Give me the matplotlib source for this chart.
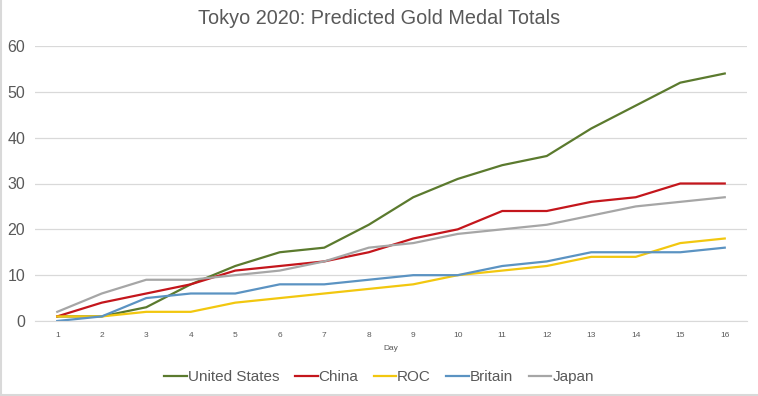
import matplotlib
matplotlib.use("Agg")
import matplotlib.pyplot as plt
from matplotlib.lines import Line2D

plt.rcParams['font.family'] = ['Liberation Sans', 'DejaVu Sans']

days = list(range(1, 17))
united_states = [1, 1, 3, 8, 12, 15, 16, 21, 27, 31, 34, 36, 42, 47, 52, 54]
china = [1, 4, 6, 8, 11, 12, 13, 15, 18, 20, 24, 24, 26, 27, 30, 30]
roc = [1, 1, 2, 2, 4, 5, 6, 7, 8, 10, 11, 12, 14, 14, 17, 18]
britain = [0, 1, 5, 6, 6, 8, 8, 9, 10, 10, 12, 13, 15, 15, 15, 16]
japan = [2, 6, 9, 9, 10, 11, 13, 16, 17, 19, 20, 21, 23, 25, 26, 27]

series = [
    ("United States", united_states, "#5b7a2e"),
    ("China", china, "#c4161c"),
    ("ROC", roc, "#f2c70f"),
    ("Britain", britain, "#5b93c2"),
    ("Japan", japan, "#a6a6a6"),
]

fig = plt.figure(figsize=(7.58, 3.96), dpi=100)
ax = fig.add_axes([35/758, 1 - 321/396, (747-35)/758, (321-46)/396])

for name, vals, col in series:
    ax.plot(days, vals, color=col, lw=1.6, label=name, solid_joinstyle='round')

ax.set_xlim(0.5, 16.5)
ax.set_ylim(0, 60)
ax.set_yticks(range(0, 61, 10))
ax.set_xticks(days)
ax.grid(axis='y', color='#d9d9d9', lw=0.9)
ax.set_axisbelow(True)
for s in ['top', 'right', 'left']:
    ax.spines[s].set_visible(False)
ax.spines['bottom'].set_color('#d9d9d9')
ax.tick_params(axis='both', length=0)
ax.tick_params(axis='y', labelsize=11.5, colors='#595959', pad=7)
ax.tick_params(axis='x', labelsize=6, colors='#595959', pad=8)
ax.set_xlabel("Day", fontsize=6, color='#595959', labelpad=4)

fig.text(0.5, 1 - 18/396, "Tokyo 2020: Predicted Gold Medal Totals",
         ha='center', va='center', fontsize=14.3, color='#595959')

leg = fig.legend(loc='center', bbox_to_anchor=(0.5, 1 - 377/396), ncol=5,
                 frameon=False, fontsize=11, handlelength=1.5,
                 handletextpad=0.05, columnspacing=1.0)
for t in leg.get_texts():
    t.set_color('#595959')

fig.add_artist(Line2D([0.001, 0.001], [0, 1], transform=fig.transFigure,
                      color='#d9d9d9', lw=1.5))
fig.add_artist(Line2D([0, 1], [0.002, 0.002], transform=fig.transFigure,
                      color='#d9d9d9', lw=1.5))

fig.savefig("out.png", dpi=100)
